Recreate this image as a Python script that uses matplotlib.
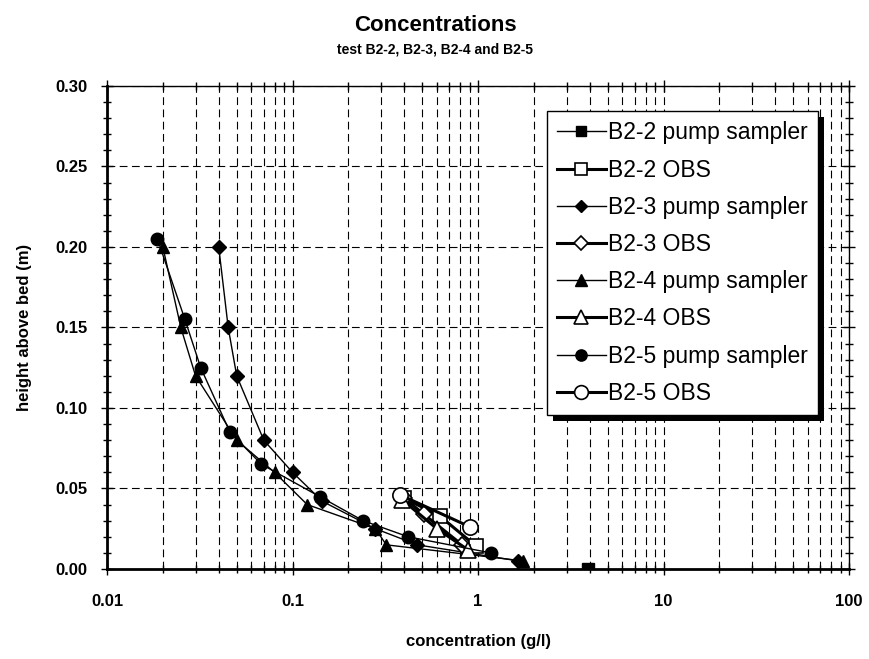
import numpy as np
import matplotlib
matplotlib.use('Agg')
import matplotlib.pyplot as plt
from matplotlib.patches import Rectangle
from matplotlib.transforms import IdentityTransform
from matplotlib.ticker import FixedLocator, LogLocator, NullFormatter, MultipleLocator

plt.rcParams['font.family'] = ['Liberation Sans', 'DejaVu Sans']

# pump sampler data (concentration g/l, height m)
b22_pump_x = [3.9]
b22_pump_y = [0.0]
b23_pump_x = [0.04, 0.045, 0.05, 0.07, 0.10, 0.145, 0.28, 0.47, 1.65]
b23_pump_y = [0.20, 0.15, 0.12, 0.08, 0.06, 0.042, 0.025, 0.015, 0.005]
b24_pump_x = [0.02, 0.025, 0.03, 0.05, 0.08, 0.12, 0.28, 0.32, 1.75]
b24_pump_y = [0.20, 0.15, 0.12, 0.08, 0.06, 0.04, 0.025, 0.015, 0.005]
b25_pump_x = [0.0187, 0.0263, 0.032, 0.046, 0.068, 0.14, 0.24, 0.42, 1.17]
b25_pump_y = [0.205, 0.155, 0.125, 0.085, 0.065, 0.045, 0.03, 0.02, 0.01]

# OBS data
b22_obs_x = [0.40, 0.62, 0.98]
b22_obs_y = [0.044, 0.033, 0.014]
b23_obs_x = [0.40, 0.51, 0.82]
b23_obs_y = [0.044, 0.034, 0.015]
b24_obs_x = [0.39, 0.60, 0.88]
b24_obs_y = [0.043, 0.025, 0.012]
b25_obs_x = [0.38, 0.91]
b25_obs_y = [0.046, 0.026]

fig = plt.figure(figsize=(8.7, 6.59), dpi=100)
ax = fig.add_axes([0.123, 0.1366, 0.853, 0.7329])

pump = dict(color='black', lw=1.0, mfc='black', mec='black')
obs = dict(color='black', lw=2.2, mfc='white', mec='black', mew=1.2)

ax.plot(b22_pump_x, b22_pump_y, marker='s', ms=8, label='B2-2 pump sampler', **pump)
ax.plot(b22_obs_x, b22_obs_y, marker='s', ms=10, label='B2-2 OBS', **obs)
ax.plot(b23_pump_x, b23_pump_y, marker='D', ms=7, label='B2-3 pump sampler', **pump)
ax.plot(b23_obs_x, b23_obs_y, marker='D', ms=8, label='B2-3 OBS', **obs)
ax.plot(b24_pump_x, b24_pump_y, marker='^', ms=9, label='B2-4 pump sampler', **pump)
ax.plot(b24_obs_x, b24_obs_y, marker='^', ms=11, label='B2-4 OBS', **obs)
ax.plot(b25_pump_x, b25_pump_y, marker='o', ms=9, label='B2-5 pump sampler', **pump)
ax.plot(b25_obs_x, b25_obs_y, marker='o', ms=11, label='B2-5 OBS', **obs)

ax.set_xscale('log')
ax.set_xlim(0.01, 100)
ax.set_ylim(0, 0.30)
ax.xaxis.set_major_locator(FixedLocator([0.01, 0.1, 1, 10, 100]))
ax.xaxis.set_minor_locator(LogLocator(base=10, subs=np.arange(2, 10), numticks=50))
ax.xaxis.set_minor_formatter(NullFormatter())
ax.set_xticklabels(['0.01', '0.1', '1', '10', '100'])
ax.yaxis.set_major_locator(MultipleLocator(0.05))
ax.yaxis.set_minor_locator(MultipleLocator(0.01))
ax.yaxis.set_major_formatter(plt.FuncFormatter(lambda v, p: '%.2f' % v))

ax.grid(True, which='both', axis='x', color='black', ls=(0, (7, 4)), lw=0.8)
ax.grid(True, which='major', axis='y', color='black', ls=(0, (7, 4)), lw=0.8)
ax.patch.set_visible(False)

ax.tick_params(which='both', direction='inout', top=True, right=True, width=1)
ax.tick_params(which='major', length=8, labelsize=12)
ax.tick_params(which='minor', length=6)
ax.tick_params(axis='x', which='major', pad=14)
ax.tick_params(axis='y', which='major', pad=10)
for lab in ax.get_xticklabels() + ax.get_yticklabels():
    lab.set_fontweight('bold')
for s in ax.spines.values():
    s.set_linewidth(1.0)
ax.spines['bottom'].set_linewidth(2.0)
ax.spines['left'].set_linewidth(2.0)

ax.set_xlabel('concentration (g/l)', fontsize=12, fontweight='bold', labelpad=18)
ax.set_ylabel('height above bed (m)', fontsize=12, fontweight='bold', labelpad=17)

fig.text(0.5, 0.962, 'Concentrations', ha='center', va='center', fontsize=16, fontweight='bold')
fig.text(0.5, 0.925, 'test B2-2, B2-3, B2-4 and B2-5', ha='center', va='center', fontsize=10, fontweight='bold')

leg = ax.legend(loc='upper left', bbox_to_anchor=(0.593, 0.948), borderaxespad=0,
                fontsize=16.5, frameon=True, fancybox=False, edgecolor='black',
                labelspacing=0.62, handlelength=2.1, handletextpad=0.1,
                borderpad=0.45, markerscale=0.9)
leg.get_frame().set_linewidth(1.0)
leg.get_frame().set_alpha(1.0)

# solid black drop shadow like the original spreadsheet chart
fig.canvas.draw()
bb = leg.get_window_extent()
shadow = Rectangle((bb.x0 + 6, bb.y0 - 6), bb.width, bb.height, transform=IdentityTransform(),
                   facecolor='black', edgecolor='none', zorder=leg.get_zorder() - 0.1, clip_on=False)
ax.add_artist(shadow)

fig.savefig('out.png', dpi=100)
